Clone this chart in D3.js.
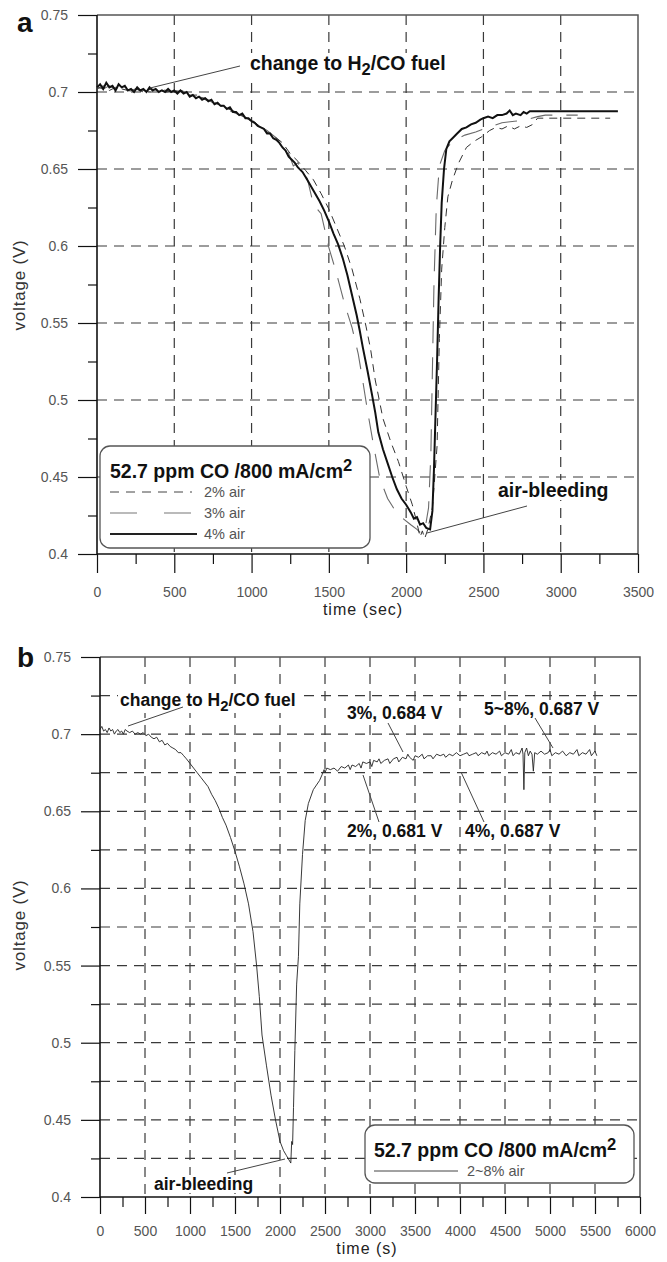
<!DOCTYPE html>
<html>
<head>
<meta charset="utf-8">
<script src="https://cdn.jsdelivr.net/npm/d3@7"></script>
<style>
  body { margin: 0; background: #fff; }
  svg { display: block; }
  text { font-family: "Liberation Sans", Arial, sans-serif; }
</style>
</head>
<body>
<div id="chart"></div>
<script>
// panel a: time (s) / voltage (V)
const air2Pct = [[0,0.702],[40,0.704],[80,0.701],[120,0.703],[160,0.702],[200,0.701],[250,0.702],[300,0.700],[350,0.702],[400,0.701],[450,0.700],[500,0.701],[550,0.700],[600,0.698],[650,0.698],[700,0.695],[750,0.694],[800,0.691],[850,0.689],[900,0.687],[950,0.684],[1000,0.682],[1050,0.678],[1100,0.674],[1150,0.671],[1200,0.667],[1250,0.660],[1300,0.655],[1350,0.649],[1400,0.643],[1450,0.634],[1500,0.624],[1550,0.612],[1600,0.600],[1650,0.585],[1700,0.566],[1740,0.548],[1770,0.533],[1800,0.513],[1850,0.488],[1900,0.473],[1950,0.460],[2000,0.444],[2040,0.432],[2070,0.420],[2090,0.411],[2105,0.415],[2120,0.410],[2140,0.416],[2170,0.430],[2200,0.470],[2215,0.540],[2230,0.585],[2250,0.612],[2270,0.632],[2300,0.643],[2340,0.654],[2390,0.664],[2440,0.668],[2490,0.671],[2540,0.675],[2580,0.677],[2620,0.676],[2660,0.678],[2700,0.676],[2740,0.678],[2780,0.677],[2820,0.679],[2850,0.683],[3320,0.683]]

const air3Pct = [[0,0.703],[40,0.702],[80,0.704],[120,0.702],[160,0.703],[200,0.700],[250,0.702],[300,0.701],[350,0.700],[400,0.702],[450,0.701],[500,0.700],[550,0.701],[600,0.698],[650,0.697],[700,0.696],[750,0.693],[800,0.692],[850,0.688],[900,0.686],[950,0.684],[1000,0.681],[1050,0.678],[1100,0.675],[1150,0.671],[1200,0.666],[1240,0.660],[1270,0.652],[1300,0.654],[1330,0.647],[1360,0.644],[1400,0.627],[1450,0.621],[1500,0.599],[1550,0.582],[1600,0.563],[1650,0.547],[1690,0.530],[1720,0.512],[1750,0.493],[1790,0.470],[1830,0.449],[1880,0.436],[1930,0.428],[1980,0.423],[2030,0.419],[2070,0.416],[2100,0.413],[2125,0.418],[2145,0.430],[2160,0.465],[2170,0.520],[2180,0.575],[2195,0.625],[2215,0.652],[2250,0.662],[2300,0.668],[2380,0.672],[2450,0.674],[2500,0.676],[2560,0.678],[2620,0.680],[2700,0.681],[2780,0.682],[2850,0.684],[2900,0.685],[3110,0.685]]

const air4Pct = [[0,0.703],[20,0.705],[40,0.702],[60,0.706],[80,0.703],[100,0.704],[120,0.701],[140,0.705],[160,0.703],[180,0.704],[200,0.701],[220,0.702],[240,0.700],[260,0.703],[280,0.701],[300,0.702],[320,0.700],[340,0.703],[360,0.701],[380,0.702],[400,0.700],[420,0.701],[440,0.700],[460,0.702],[480,0.700],[500,0.701],[520,0.699],[540,0.701],[560,0.699],[580,0.700],[600,0.697],[620,0.698],[640,0.696],[660,0.697],[680,0.695],[700,0.696],[720,0.694],[740,0.695],[760,0.692],[780,0.693],[800,0.691],[820,0.691],[840,0.689],[860,0.690],[880,0.687],[900,0.687],[920,0.685],[940,0.686],[960,0.683],[980,0.683],[1000,0.681],[1020,0.680],[1040,0.678],[1060,0.677],[1080,0.676],[1100,0.673],[1120,0.673],[1140,0.670],[1160,0.669],[1180,0.667],[1200,0.664],[1220,0.662],[1240,0.658],[1260,0.656],[1280,0.654],[1300,0.651],[1330,0.648],[1360,0.643],[1400,0.636],[1440,0.629],[1470,0.623],[1500,0.616],[1530,0.608],[1560,0.601],[1590,0.592],[1620,0.581],[1650,0.568],[1680,0.555],[1700,0.545],[1720,0.534],[1750,0.519],[1780,0.503],[1800,0.492],[1820,0.479],[1850,0.468],[1880,0.459],[1910,0.450],[1940,0.442],[1970,0.436],[2000,0.432],[2030,0.427],[2050,0.423],[2070,0.424],[2090,0.419],[2110,0.420],[2130,0.417],[2155,0.416],[2170,0.428],[2180,0.455],[2190,0.490],[2200,0.525],[2210,0.565],[2220,0.600],[2230,0.628],[2245,0.650],[2260,0.663],[2280,0.668],[2300,0.670],[2330,0.673],[2360,0.676],[2390,0.677],[2420,0.679],[2450,0.680],[2480,0.682],[2500,0.683],[2530,0.684],[2560,0.683],[2590,0.685],[2620,0.685],[2650,0.686],[2670,0.688],[2690,0.685],[2710,0.686],[2740,0.685],[2760,0.687],[2780,0.686],[2800,0.6875],[3370,0.6875]]

// panel b: one run, air stepped 2% -> 8%
const air2to8Pct = [[0,0.703],[20,0.705],[40,0.702],[60,0.703],[80,0.701],[100,0.704],[120,0.702],[140,0.703],[160,0.700],[180,0.702],[200,0.703],[220,0.701],[240,0.702],[260,0.700],[280,0.703],[300,0.702],[330,0.701],[360,0.702],[390,0.700],[420,0.701],[450,0.700],[480,0.701],[510,0.699],[540,0.700],[570,0.698],[600,0.697],[630,0.698],[660,0.695],[690,0.696],[720,0.693],[750,0.694],[780,0.692],[810,0.691],[840,0.690],[870,0.688],[900,0.688],[930,0.686],[960,0.684],[1000,0.681],[1040,0.678],[1080,0.675],[1120,0.672],[1160,0.669],[1200,0.666],[1240,0.661],[1280,0.657],[1320,0.652],[1360,0.646],[1400,0.641],[1450,0.633],[1500,0.624],[1550,0.614],[1600,0.603],[1650,0.590],[1700,0.572],[1740,0.550],[1770,0.530],[1800,0.505],[1850,0.485],[1900,0.466],[1950,0.450],[2000,0.436],[2040,0.430],[2070,0.427],[2100,0.424],[2120,0.422],[2130,0.436],[2140,0.434],[2150,0.458],[2165,0.495],[2185,0.538],[2205,0.556],[2220,0.590],[2250,0.622],[2280,0.644],[2315,0.655],[2370,0.664],[2440,0.670],[2470,0.674],[2490,0.677],[2500,0.675],[2520,0.678],[2560,0.677],[2600,0.678],[2640,0.676],[2680,0.679],[2720,0.678],[2760,0.680],[2780,0.677],[2800,0.680],[2840,0.679],[2880,0.681],[2900,0.678],[2920,0.682],[2960,0.681],[3000,0.682],[3020,0.679],[3040,0.683],[3080,0.682],[3100,0.684],[3120,0.681],[3160,0.683],[3200,0.684],[3220,0.681],[3260,0.684],[3300,0.685],[3320,0.682],[3360,0.685],[3400,0.684],[3420,0.687],[3440,0.685],[3480,0.683],[3500,0.686],[3540,0.685],[3580,0.687],[3600,0.684],[3640,0.686],[3680,0.686],[3700,0.684],[3740,0.687],[3780,0.686],[3820,0.687],[3840,0.685],[3880,0.687],[3920,0.686],[3960,0.688],[4000,0.686],[4040,0.687],[4080,0.688],[4100,0.686],[4140,0.687],[4180,0.688],[4200,0.686],[4240,0.688],[4280,0.687],[4300,0.689],[4320,0.686],[4360,0.688],[4400,0.687],[4440,0.689],[4460,0.686],[4500,0.688],[4540,0.687],[4570,0.690],[4590,0.686],[4620,0.688],[4660,0.687],[4690,0.691],[4700,0.687],[4710,0.664],[4720,0.688],[4740,0.691],[4760,0.686],[4780,0.689],[4800,0.687],[4815,0.676],[4830,0.688],[4860,0.687],[4900,0.689],[4940,0.687],[4980,0.688],[5000,0.690],[5020,0.686],[5060,0.688],[5100,0.687],[5140,0.689],[5180,0.686],[5220,0.688],[5260,0.687],[5300,0.690],[5320,0.686],[5360,0.688],[5400,0.687],[5440,0.690],[5460,0.686],[5500,0.689],[5520,0.686]]

const yTicks = [0.4, 0.45, 0.5, 0.55, 0.6, 0.65, 0.7, 0.75]
const yTickLabels = ['0.4', '0.45', '0.5', '0.55', '0.6', '0.65', '0.7', '0.75']
const xTicksA = [0, 500, 1000, 1500, 2000, 2500, 3000, 3500]
const xTicksB = [0, 500, 1000, 1500, 2000, 2500, 3000, 3500, 4000, 4500, 5000, 5500, 6000]

const W = 667
const H = 1262
const font = '"Liberation Sans", Arial, sans-serif'

const svg = d3.select('#chart').append('svg')
  .attr('width', W)
  .attr('height', H)

// text with optional sub/superscript pieces: [str, dy] (positive = subscript, negative = superscript)
const addText = (g, x, y, parts, size, opts = {}) => {
  const t = g.append('text')
    .attr('x', x).attr('y', y)
    .attr('font-size', size)
    .attr('font-weight', opts.bold ? 'bold' : 'normal')
    .attr('fill', opts.fill || '#111')
  let shift = 0
  parts.forEach(p => {
    const s = typeof p === 'string' ? [p, 0] : p
    const sp = t.append('tspan').text(s[0]).attr('dy', s[1] - shift)
    if (s[1] !== 0) sp.attr('font-size', size * 0.85)
    shift = s[1]
  })
  if (opts.knockout) {
    const b = t.node().getBBox()
    g.insert('rect', () => t.node())
      .attr('x', b.x - 2).attr('y', b.y + 1)
      .attr('width', b.width + 4).attr('height', b.height - 2)
      .attr('fill', '#fff')
  }
  return t
}

const pointer = (g, x1, y1, x2, y2) => {
  g.append('line')
    .attr('x1', x1).attr('y1', y1).attr('x2', x2).attr('y2', y2)
    .attr('stroke', '#444').attr('stroke-width', 1)
}

const drawPanel = cfg => {
  const g = svg.append('g')
  const x = d3.scaleLinear().domain([0, cfg.xMax]).range([cfg.left, cfg.right])
  const y = d3.scaleLinear().domain([0.4, 0.75]).range([cfg.bottom, cfg.top])

  // dashed grid
  g.append('g').selectAll('line')
    .data(cfg.xTicks.filter(d => d > 0 && d < cfg.xMax))
    .enter().append('line')
      .attr('x1', d => x(d)).attr('x2', d => x(d))
      .attr('y1', cfg.top).attr('y2', cfg.bottom)
  g.append('g').selectAll('line')
    .data(cfg.yGrid)
    .enter().append('line')
      .attr('x1', cfg.left).attr('x2', cfg.right)
      .attr('y1', d => y(d)).attr('y2', d => y(d))
  g.selectAll('g line')
    .attr('stroke', '#3a3a3a').attr('stroke-width', 1.2).attr('stroke-dasharray', '10,7')

  // frame (top / right) in grey
  g.append('path')
    .attr('d', `M${cfg.left},${cfg.top}H${cfg.right}V${cfg.bottom}`)
    .attr('fill', 'none').attr('stroke', '#555').attr('stroke-width', 1.5)

  // axes: major + minor ticks
  const styleAxis = ax => {
    ax.select('.domain').remove()
    ax.selectAll('.tick line').attr('stroke', '#111').attr('stroke-width', 1.2)
    ax.selectAll('text').attr('fill', '#555').attr('font-size', 14).attr('font-family', font)
  }
  const xAxis = g.append('g').attr('transform', `translate(0,${cfg.bottom})`)
    .call(d3.axisBottom(x).tickValues(cfg.xTicks).tickSize(cfg.majorLen).tickFormat(d3.format('d')))
  styleAxis(xAxis)
  xAxis.selectAll('text').attr('y', cfg.xLabelY)
  const xMinor = g.append('g').attr('transform', `translate(0,${cfg.bottom})`)
    .call(d3.axisBottom(x).tickValues(d3.range(250, cfg.xMax, 500)).tickSize(10).tickFormat(''))
  styleAxis(xMinor)

  const yAxis = g.append('g').attr('transform', `translate(${cfg.left},0)`)
    .call(d3.axisLeft(y).tickValues(yTicks).tickSize(19).tickFormat((d, i) => yTickLabels[i]))
  styleAxis(yAxis)
  yAxis.selectAll('text').attr('x', -29)
  const yMinor = g.append('g').attr('transform', `translate(${cfg.left},0)`)
    .call(d3.axisLeft(y).tickValues([0.425, 0.475, 0.525, 0.575, 0.625, 0.675, 0.725]).tickSize(9).tickFormat(''))
  styleAxis(yMinor)

  g.append('line')
    .attr('x1', cfg.left).attr('x2', cfg.right)
    .attr('y1', cfg.bottom).attr('y2', cfg.bottom)
    .attr('stroke', '#111').attr('stroke-width', 1.6)
  g.append('line')
    .attr('x1', cfg.left).attr('x2', cfg.left)
    .attr('y1', cfg.top).attr('y2', cfg.bottom)
    .attr('stroke', '#111').attr('stroke-width', 1.6)

  // axis titles + panel letter
  g.append('text')
    .attr('x', cfg.titleX).attr('y', cfg.titleY)
    .attr('text-anchor', 'middle').attr('font-size', 16).attr('letter-spacing', 1).attr('fill', '#222')
    .text(cfg.xTitle)
  g.append('text')
    .attr('transform', `translate(${cfg.yTitleX},${cfg.yTitleY}) rotate(-90)`)
    .attr('text-anchor', 'middle').attr('font-size', 17).attr('letter-spacing', 0.8).attr('fill', '#333')
    .text('voltage (V)')
  g.append('text')
    .attr('x', 17).attr('y', cfg.letterY)
    .attr('font-size', 28).attr('font-weight', 'bold').attr('fill', '#111')
    .text(cfg.letter)

  return { g, x, y }
}

// ---------- panel a ----------
const a = drawPanel({
  left: 97, right: 638, top: 15, bottom: 554, xMax: 3500, xTicks: xTicksA,
  yGrid: [0.45, 0.5, 0.55, 0.6, 0.65, 0.7], majorLen: 19, xLabelY: 33,
  xTitle: 'time (sec)', titleX: 363, titleY: 615, yTitleX: 25, yTitleY: 285,
  letter: 'a', letterY: 32
})
const lineA = d3.line().x(d => a.x(d[0])).y(d => a.y(d[1]))

addText(a.g, 250, 70, ['change to H', ['2', 5], ['/CO fuel', 0]], 19.5, { bold: true, knockout: true })
addText(a.g, 498, 497, ['air-bleeding'], 19.5, { bold: true, knockout: true })

a.g.append('path').datum(air3Pct).attr('d', lineA)
  .attr('fill', 'none').attr('stroke', '#6a6a6a').attr('stroke-width', 1.1).attr('stroke-dasharray', '22,14')
a.g.append('path').datum(air2Pct).attr('d', lineA)
  .attr('fill', 'none').attr('stroke', '#333').attr('stroke-width', 1).attr('stroke-dasharray', '8,6')
a.g.append('path').datum(air4Pct).attr('d', lineA)
  .attr('fill', 'none').attr('stroke', '#111').attr('stroke-width', 2)

pointer(a.g, 240, 66, 150, 88)
pointer(a.g, 527, 506, 427, 533)

// legend a
a.g.append('rect')
  .attr('x', 100).attr('y', 446).attr('width', 270).attr('height', 102).attr('rx', 10)
  .attr('fill', '#fff').attr('stroke', '#555').attr('stroke-width', 1.3)
addText(a.g, 110, 478, ['52.7 ppm CO /800 mA/cm', ['2', -7]], 19.5, { bold: true })
const legendA = [
  { label: '2% air', dash: '9,7', color: '#444', width: 1 },
  { label: '3% air', dash: '27,27', color: '#777', width: 1.2 },
  { label: '4% air', dash: null, color: '#222', width: 2 }
]
legendA.forEach((d, i) => {
  const ly = 492 + i * 21
  a.g.append('line')
    .attr('x1', 110).attr('x2', d.dash ? 192 : 197).attr('y1', ly).attr('y2', ly)
    .attr('stroke', d.color).attr('stroke-width', d.width).attr('stroke-dasharray', d.dash)
  addText(a.g, 204, ly + 5, [d.label], 14.5, { fill: '#555' })
})

// ---------- panel b ----------
const b = drawPanel({
  left: 100, right: 640, top: 657, bottom: 1197, xMax: 6000, xTicks: xTicksB,
  yGrid: [0.425, 0.45, 0.475, 0.5, 0.525, 0.55, 0.575, 0.6, 0.625, 0.65, 0.675, 0.7, 0.725],
  majorLen: 17, xLabelY: 29,
  xTitle: 'time (s)', titleX: 367, titleY: 1254, yTitleX: 25, yTitleY: 925,
  letter: 'b', letterY: 667
})
const lineB = d3.line().x(d => b.x(d[0])).y(d => b.y(d[1]))

const notesB = [
  { x: 120, y: 706, parts: ['change to H', ['2', 5], ['/CO fuel', 0]] },
  { x: 347, y: 719, parts: ['3%, 0.684 V'] },
  { x: 484, y: 715, parts: ['5~8%, 0.687 V'] },
  { x: 347, y: 837, parts: ['2%, 0.681 V'] },
  { x: 465, y: 837, parts: ['4%, 0.687 V'] },
  { x: 154, y: 1190, parts: ['air-bleeding'] }
]
notesB.forEach(n => addText(b.g, n.x, n.y, n.parts, 17.5, { bold: true, knockout: true }))

b.g.append('path').datum(air2to8Pct).attr('d', lineB)
  .attr('fill', 'none').attr('stroke', '#222').attr('stroke-width', 0.9)

pointer(b.g, 183, 707, 128, 726)
pointer(b.g, 388, 723, 403, 752)
pointer(b.g, 535, 718, 553, 748)
pointer(b.g, 379, 822, 363, 775)
pointer(b.g, 484, 822, 461, 772)
pointer(b.g, 227, 1173, 285, 1159)

// legend b
b.g.append('rect')
  .attr('x', 365).attr('y', 1125).attr('width', 269).attr('height', 58).attr('rx', 10)
  .attr('fill', '#fff').attr('stroke', '#555').attr('stroke-width', 1.3)
addText(b.g, 374, 1157, ['52.7 ppm CO /800 mA/cm', ['2', -7]], 19.5, { bold: true })
b.g.append('line')
  .attr('x1', 374).attr('x2', 458).attr('y1', 1171).attr('y2', 1171)
  .attr('stroke', '#444').attr('stroke-width', 1)
addText(b.g, 467, 1176, ['2~8% air'], 14.5, { fill: '#555' })
</script>
</body>
</html>
